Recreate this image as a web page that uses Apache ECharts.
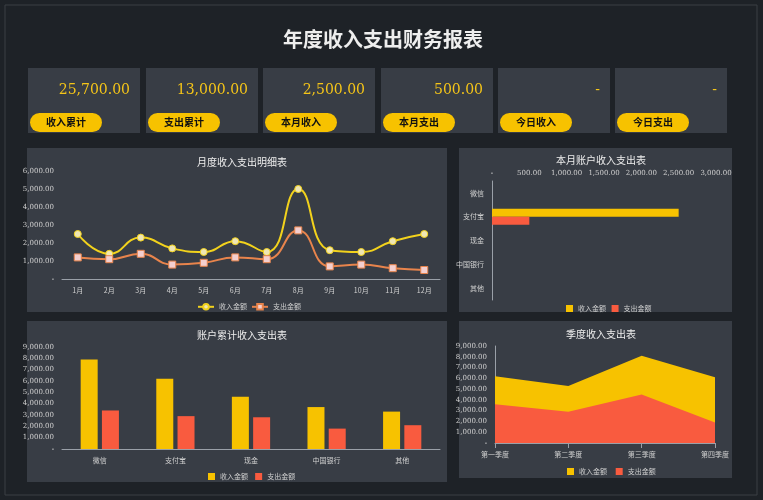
<!DOCTYPE html>
<html><head><meta charset="utf-8">
<script src="https://cdn.jsdelivr.net/npm/echarts@6/dist/echarts.min.js"></script>
<style>html,body{margin:0;padding:0;background:#1e2227}#c{width:763px;height:500px}</style>
</head><body><div id="c"></div>
<script>
const months=['1月','2月','3月','4月','5月','6月','7月','8月','9月','10月','11月','12月'];
const monthIncome=[2500,1400,2300,1700,1500,2100,1500,5000,1600,1500,2100,2500];
const monthExpense=[1200,1100,1400,800,900,1200,1100,2700,700,800,600,500];
const accounts=['微信','支付宝','现金','中国银行','其他'];
const curIncome=[0,2500,0,0,0];
const curExpense=[0,500,0,0,0];
const accIncome=[7900,6200,4600,3700,3300];
const accExpense=[3400,2900,2800,1800,2100];
const quarters=['第一季度','第二季度','第三季度','第四季度'];
const qIncome=[6200,5300,8100,6100];
const qExpense=[3600,2900,4500,1900];
const cardLabels=['收入累计','支出累计','本月收入','本月支出','今日收入','今日支出'];
const cardValues=['25,700.00','13,000.00','2,500.00','500.00','-','-'];

const Y='#f7c200',R='#f95b3f',TXT='#d0d0d0',PANEL='#383d45';
const ff='"Noto Sans CJK SC", sans-serif';
const nf='"DejaVu Serif", serif';
function fmt(v){return v===0?'-':v.toLocaleString('en-US',{minimumFractionDigits:2,maximumFractionDigits:2});}
const cardX=[28,146,263,381,498,615];
const g=[{type:'rect',shape:{x:5,y:5,width:752,height:490},style:{fill:'#1e2227',stroke:'#3a3e44'}}];
cardX.forEach((x,i)=>{
  g.push({type:'rect',shape:{x:x,y:68,width:112,height:65},style:{fill:PANEL}});
  g.push({type:'text',x:x+102,y:90,style:{text:cardValues[i],fill:'#f5c518',font:'14px '+nf,align:'right',verticalAlign:'middle'}});
  g.push({type:'rect',shape:{x:x+2,y:113,width:72,height:19,r:9.5},style:{fill:Y}});
  g.push({type:'text',x:x+38,y:122.5,style:{text:cardLabels[i],fill:'#111',font:'bold 10px '+ff,align:'center',verticalAlign:'middle'}});
});
[[27,148,420,164],[459,148,273,164],[27,321,420,161],[459,321,273,157]].forEach(p=>{
  g.push({type:'rect',shape:{x:p[0],y:p[1],width:p[2],height:p[3]},style:{fill:PANEL}});
});
const axisLab={color:TXT,fontSize:7,fontFamily:nf,formatter:fmt};
function ttl(text,x,y,size,w){return {text:text,left:x,top:y,textAlign:'center',textStyle:{color:'#eee',fontSize:size,fontWeight:w||'normal',fontFamily:ff}};}
const catLab={color:TXT,fontSize:7,fontFamily:ff};
const axLine={lineStyle:{color:'#9aa0a8'}};
const opt={
  backgroundColor:'#1e2227',animation:false,
  graphic:g,
  title:[ttl('年度收入支出财务报表',378,24,20,'bold'),ttl('月度收入支出明细表',237,152,10),ttl('本月账户收入支出表',596,150,10),ttl('账户累计收入支出表',237,325,10),ttl('季度收入支出表',596,324,10)],
  legend:[
    {left:192,top:298,itemWidth:16,itemHeight:7,itemGap:4,textStyle:{color:TXT,fontSize:7,fontFamily:ff},data:['收入金额','支出金额']},
  ],
  grid:[
    {left:62,right:763-440,top:171,height:108},
    {left:492,right:763-716,top:181,height:119},
    {left:62,right:763-440,top:347,height:102},
    {left:495,right:763-715,top:346,height:97}
  ],
  xAxis:[
    {gridIndex:0,type:'category',data:months,axisLabel:catLab,axisLine:axLine,axisTick:{show:false}},
    {gridIndex:1,type:'value',position:'top',min:0,max:3000,interval:500,axisLabel:Object.assign({margin:4},axisLab),axisLine:{show:false},splitLine:{show:false}},
    {gridIndex:2,type:'category',data:accounts,axisLabel:catLab,axisLine:axLine,axisTick:{show:false}},
    {gridIndex:3,type:'category',data:quarters,boundaryGap:false,axisLabel:{color:TXT,fontSize:7,fontFamily:ff},axisLine:axLine,axisTick:{show:true,lineStyle:{color:'#9aa0a8'}}}
  ],
  yAxis:[
    {gridIndex:0,type:'value',min:0,max:6000,interval:1000,axisLabel:axisLab,splitLine:{show:false}},
    {gridIndex:1,type:'category',data:accounts,inverse:true,axisLabel:catLab,axisLine:axLine,axisTick:{show:false}},
    {gridIndex:2,type:'value',min:0,max:9000,interval:1000,axisLabel:axisLab,splitLine:{show:false}},
    {gridIndex:3,type:'value',min:0,max:9000,interval:1000,axisLabel:axisLab,splitLine:{show:false},axisLine:{show:true,lineStyle:{color:'#9aa0a8'}}}
  ],
  series:[
    {name:'收入金额',type:'line',xAxisIndex:0,yAxisIndex:0,data:monthIncome,smooth:true,symbol:'circle',symbolSize:7,lineStyle:{color:'#f2d21c',width:2},itemStyle:{color:'#efe6b4',borderColor:'#f2d21c',borderWidth:1}},
    {name:'支出金额',type:'line',xAxisIndex:0,yAxisIndex:0,data:monthExpense,smooth:true,symbol:'rect',symbolSize:7,lineStyle:{color:'#e8844c',width:2},itemStyle:{color:'#f3cfcf',borderColor:'#e8844c',borderWidth:1}},
    {name:'收入金额 ',type:'bar',xAxisIndex:1,yAxisIndex:1,data:curIncome,barWidth:8,barGap:'0%',itemStyle:{color:Y}},
    {name:'支出金额 ',type:'bar',xAxisIndex:1,yAxisIndex:1,data:curExpense,barWidth:8,itemStyle:{color:R}},
    {name:'收入金额  ',type:'bar',xAxisIndex:2,yAxisIndex:2,data:accIncome,barWidth:17,barGap:'25%',itemStyle:{color:Y}},
    {name:'支出金额  ',type:'bar',xAxisIndex:2,yAxisIndex:2,data:accExpense,barWidth:17,itemStyle:{color:R}},
    {name:'收入金额   ',type:'line',xAxisIndex:3,yAxisIndex:3,data:qIncome,symbol:'none',itemStyle:{color:Y},lineStyle:{width:0,color:Y},areaStyle:{color:Y,opacity:1}},
    {name:'支出金额   ',type:'line',xAxisIndex:3,yAxisIndex:3,data:qExpense,symbol:'none',itemStyle:{color:R},lineStyle:{width:0,color:R},areaStyle:{color:R,opacity:1}}
  ]
};
const L=(x,y,suf)=>({left:x,top:y,itemWidth:7,itemHeight:7,itemGap:4,icon:'rect',textStyle:{color:TXT,fontSize:7,fontFamily:ff},data:['收入金额'+suf,'支出金额'+suf]});
opt.legend.push(L(561,300,' '),L(203,468,'  '),L(562,463,'   '));
echarts.init(document.getElementById('c')).setOption(opt);
</script></body></html>
